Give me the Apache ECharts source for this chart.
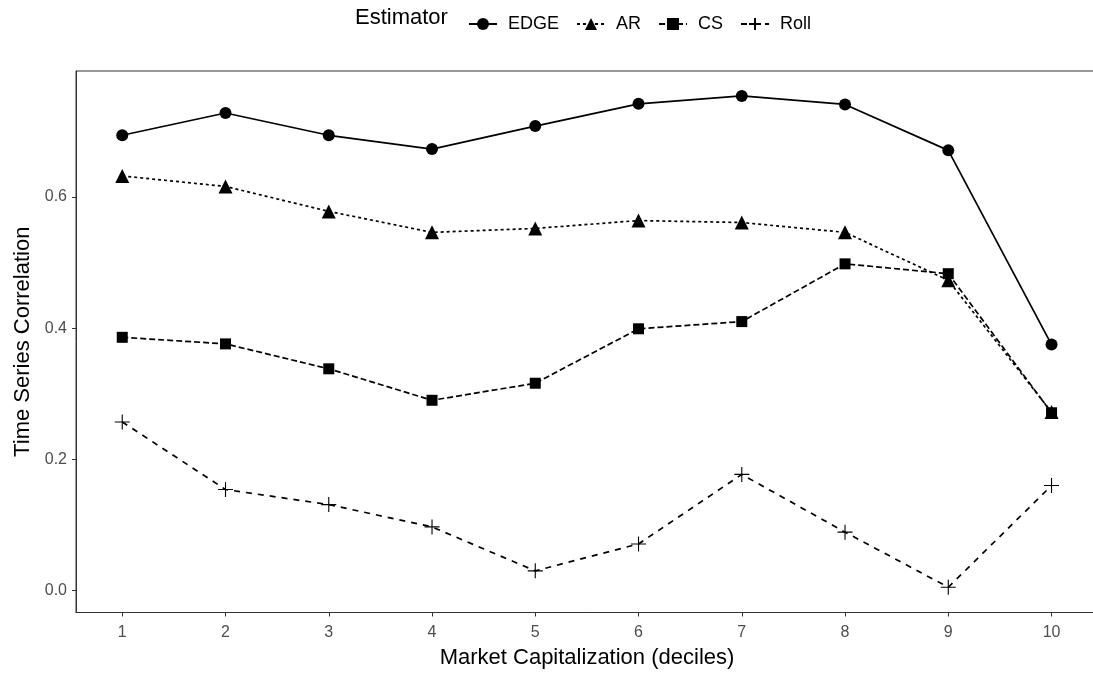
<!DOCTYPE html>
<html>
<head>
<meta charset="utf-8">
<script src="https://cdn.jsdelivr.net/npm/echarts@6/dist/echarts.min.js"></script>
<style>html,body{margin:0;padding:0;background:#fff}#c{width:1093px;height:675px}</style>
</head>
<body>
<div id="c"></div>
<script>
const deciles = [1, 2, 3, 4, 5, 6, 7, 8, 9, 10];
const seriesNames = ['EDGE', 'AR', 'CS', 'Roll'];
const edge = [0.694, 0.728, 0.694, 0.673, 0.708, 0.742, 0.754, 0.741, 0.671, 0.375];
const ar   = [0.632, 0.616, 0.578, 0.546, 0.552, 0.564, 0.561, 0.546, 0.473, 0.272];
const cs   = [0.386, 0.376, 0.338, 0.290, 0.316, 0.399, 0.410, 0.498, 0.483, 0.271];
const roll = [0.257, 0.154, 0.131, 0.097, 0.030, 0.071, 0.177, 0.089, 0.005, 0.160];
const yTicks = [0, 0.2, 0.4, 0.6];

const FONT = '"Liberation Sans", Arial, sans-serif';
const chart = echarts.init(document.getElementById('c'), null, {renderer: 'canvas'});
const pair = arr => deciles.map((d, i) => [d, arr[i]]);
const crossPath = 'path://M0,5 L10,5 M5,0 L5,10';

function mk(name, arr, symbol, size, dash, isCross) {
  return {
    name: name, type: 'line', data: pair(arr),
    symbol: symbol, symbolSize: size,
    lineStyle: {color: '#000', width: 1.7, type: dash},
    itemStyle: isCross ? {color: 'rgba(0,0,0,0)', borderColor: '#000', borderWidth: 1.1}
                       : {color: '#000', borderWidth: 0},
    showSymbol: true, animation: false, z: 3
  };
}

chart.setOption({
  animation: false,
  backgroundColor: '#fff',
  graphic: [{
    type: 'text', left: 355, top: 7,
    style: {text: 'Estimator', font: '22px ' + FONT, fill: '#000'}
  }],
  legend: {
    left: 463, top: 10, itemWidth: 28, itemHeight: 15, itemGap: 17,
    textStyle: {fontFamily: FONT, fontSize: 18, color: '#000', padding: [0, 0, 0, 6]},
    data: seriesNames
  },
  grid: {left: 76, right: -5, top: 71, bottom: 62.5, show: true, borderColor: '#333', borderWidth: 1,
    outerBoundsMode: 'none', containLabel: false},
  xAxis: {
    type: 'value', min: 0.552, max: 10.45,
    name: 'Market Capitalization (deciles)', nameLocation: 'middle', nameGap: 34,
    nameTextStyle: {fontFamily: FONT, fontSize: 22, color: '#000'},
    axisLine: {show: true, onZero: false, lineStyle: {color: '#333', width: 1}},
    axisTick: {show: true, length: 4, lineStyle: {color: '#333'}, customValues: deciles},
    axisLabel: {fontFamily: FONT, fontSize: 16, color: '#4d4d4d', margin: 12, customValues: deciles},
    splitLine: {show: false}
  },
  yAxis: {
    type: 'value', min: -0.0335, max: 0.792,
    name: 'Time Series Correlation', nameLocation: 'middle', nameGap: 37, nameRotate: 90,
    nameTextStyle: {fontFamily: FONT, fontSize: 22, color: '#000'},
    axisLine: {show: true, onZero: false, lineStyle: {color: '#333', width: 1}},
    axisTick: {show: true, length: 4, lineStyle: {color: '#333'}, customValues: yTicks},
    axisLabel: {fontFamily: FONT, fontSize: 16, color: '#4d4d4d', margin: 9,
      customValues: yTicks, formatter: v => v.toFixed(1)},
    splitLine: {show: false}
  },
  series: [
    mk('EDGE', edge, 'circle', 12, 'solid'),
    mk('AR', ar, 'triangle', 14, [3, 3]),
    mk('CS', cs, 'rect', 11, [6, 3]),
    mk('Roll', roll, crossPath, 15, [6, 6], true)
  ]
});
</script>
</body>
</html>
